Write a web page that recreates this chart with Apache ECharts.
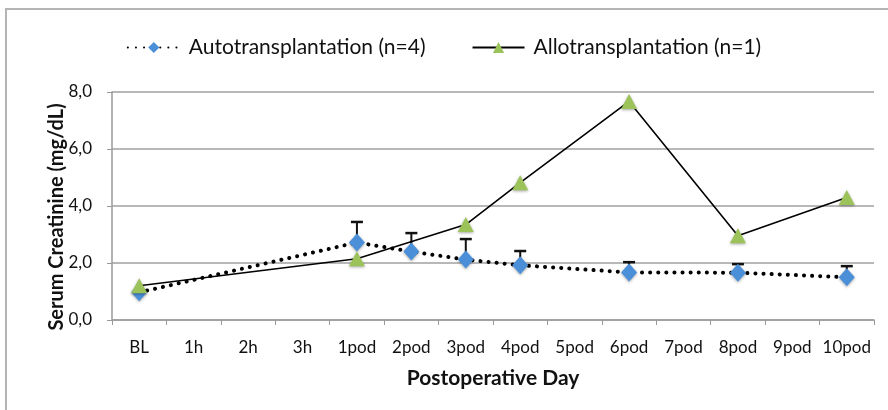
<!DOCTYPE html>
<html>
<head>
<meta charset="utf-8">
<script src="https://cdn.jsdelivr.net/npm/echarts@6/dist/echarts.min.js"></script>
<style>
html,body{margin:0;padding:0;background:#fff;}
#frame{position:absolute;left:5px;top:8px;width:900px;height:420px;border-left:2px solid #b4b4b4;border-top:2px solid #b4b4b4;}
#chart{position:absolute;left:0;top:0;width:888px;height:410px;}
</style>
</head>
<body>
<div id="frame"></div>
<div id="chart"></div>
<script>
var categories = ['BL','1h','2h','3h','1pod','2pod','3pod','4pod','5pod','6pod','7pod','8pod','9pod','10pod'];
var autoValues = [0.97, null, null, null, 2.72, 2.4, 2.12, 1.92, null, 1.67, null, 1.66, null, 1.5];
var autoErrors = [null, null, null, null, 0.72, 0.65, 0.72, 0.5, null, 0.36, null, 0.3, null, 0.39];
var alloValues = [1.2, null, null, null, 2.15, null, 3.35, 4.82, null, 7.67, null, 2.96, null, 4.3];
var yTicks = [0, 2, 4, 6, 8];
var seriesNames = ['Autotransplantation (n=4)', 'Allotransplantation (n=1)'];

var FONT = 'Lato';
var errData = [];
for (var i = 0; i < categories.length; i++) {
  if (autoValues[i] != null && autoErrors[i] != null) errData.push([i, autoValues[i], autoErrors[i]]);
}

var chart = echarts.init(document.getElementById('chart'));
chart.setOption({
  animation: false,
  backgroundColor: 'transparent',
  textStyle: {fontFamily: FONT},
  legend: {
    top: 32,
    left: 'center',
    itemWidth: 52,
    itemHeight: 14,
    itemGap: 46,
    textStyle: {fontFamily: FONT, fontSize: 21, color: '#111', padding: [0, 0, 0, 4]},
    data: seriesNames
  },
  grid: {left: 112, right: 14, top: 92, bottom: 90},
  xAxis: {
    type: 'category',
    data: categories,
    boundaryGap: true,
    name: 'Postoperative Day',
    nameLocation: 'middle',
    nameGap: 48,
    nameMoveOverlap: false,
    nameTextStyle: {fontFamily: FONT, fontSize: 21, fontWeight: 'bold', color: '#111'},
    axisLine: {lineStyle: {color: '#9a9a9a', width: 1.5}},
    axisTick: {show: true, length: 5, lineStyle: {color: '#9a9a9a'}, alignWithLabel: false},
    axisLabel: {fontFamily: FONT, fontSize: 17, color: '#111', margin: 19, interval: 0}
  },
  yAxis: {
    type: 'value',
    min: yTicks[0],
    max: yTicks[yTicks.length - 1],
    interval: 2,
    name: 'Serum Creatinine (mg/dL)',
    nameLocation: 'middle',
    nameGap: 45,
    nameMoveOverlap: false,
    nameTextStyle: {fontFamily: FONT, fontSize: 20, fontWeight: 'bold', color: '#111', padding: [0, 22, 0, 0]},
    axisLine: {show: true, lineStyle: {color: '#9a9a9a', width: 1.5}},
    axisTick: {show: true, length: 5, lineStyle: {color: '#9a9a9a'}},
    axisLabel: {fontFamily: FONT, fontSize: 17, color: '#111', margin: 20,
      formatter: function (v) { return v.toFixed(1).replace('.', ','); }},
    splitLine: {lineStyle: {color: '#a0a0a0', width: 1.5}}
  },
  series: [
    {
      name: seriesNames[0],
      type: 'line',
      data: autoValues,
      connectNulls: true,
      symbol: 'diamond',
      symbolSize: [16, 18],
      z: 3,
      lineStyle: {color: '#000', width: 4, type: [0.1, 8], cap: 'round'},
      itemStyle: {color: '#4a8fd8', shadowBlur: 3, shadowColor: 'rgba(0,0,0,0.35)', shadowOffsetY: 1}
    },
    {
      name: seriesNames[1],
      type: 'line',
      data: alloValues,
      connectNulls: true,
      symbol: 'triangle',
      symbolSize: [16, 15],
      z: 4,
      lineStyle: {color: '#000', width: 1.6},
      itemStyle: {color: '#9cc25a', shadowBlur: 3, shadowColor: 'rgba(0,0,0,0.35)', shadowOffsetY: 1}
    },
    {
      name: 'error',
      type: 'custom',
      data: errData,
      z: 2,
      silent: true,
      renderItem: function (params, api) {
        var idx = api.value(0);
        var base = api.coord([idx, api.value(1)]);
        var top = api.coord([idx, api.value(1) + api.value(2)]);
        var half = 6;
        return {
          type: 'group',
          children: [
            {type: 'line', shape: {x1: base[0], y1: base[1], x2: top[0], y2: top[1]}, style: {stroke: '#111', lineWidth: 2}},
            {type: 'line', shape: {x1: top[0] - half, y1: top[1], x2: top[0] + half, y2: top[1]}, style: {stroke: '#111', lineWidth: 2.5}}
          ]
        };
      }
    }
  ]
});
</script>
</body>
</html>
